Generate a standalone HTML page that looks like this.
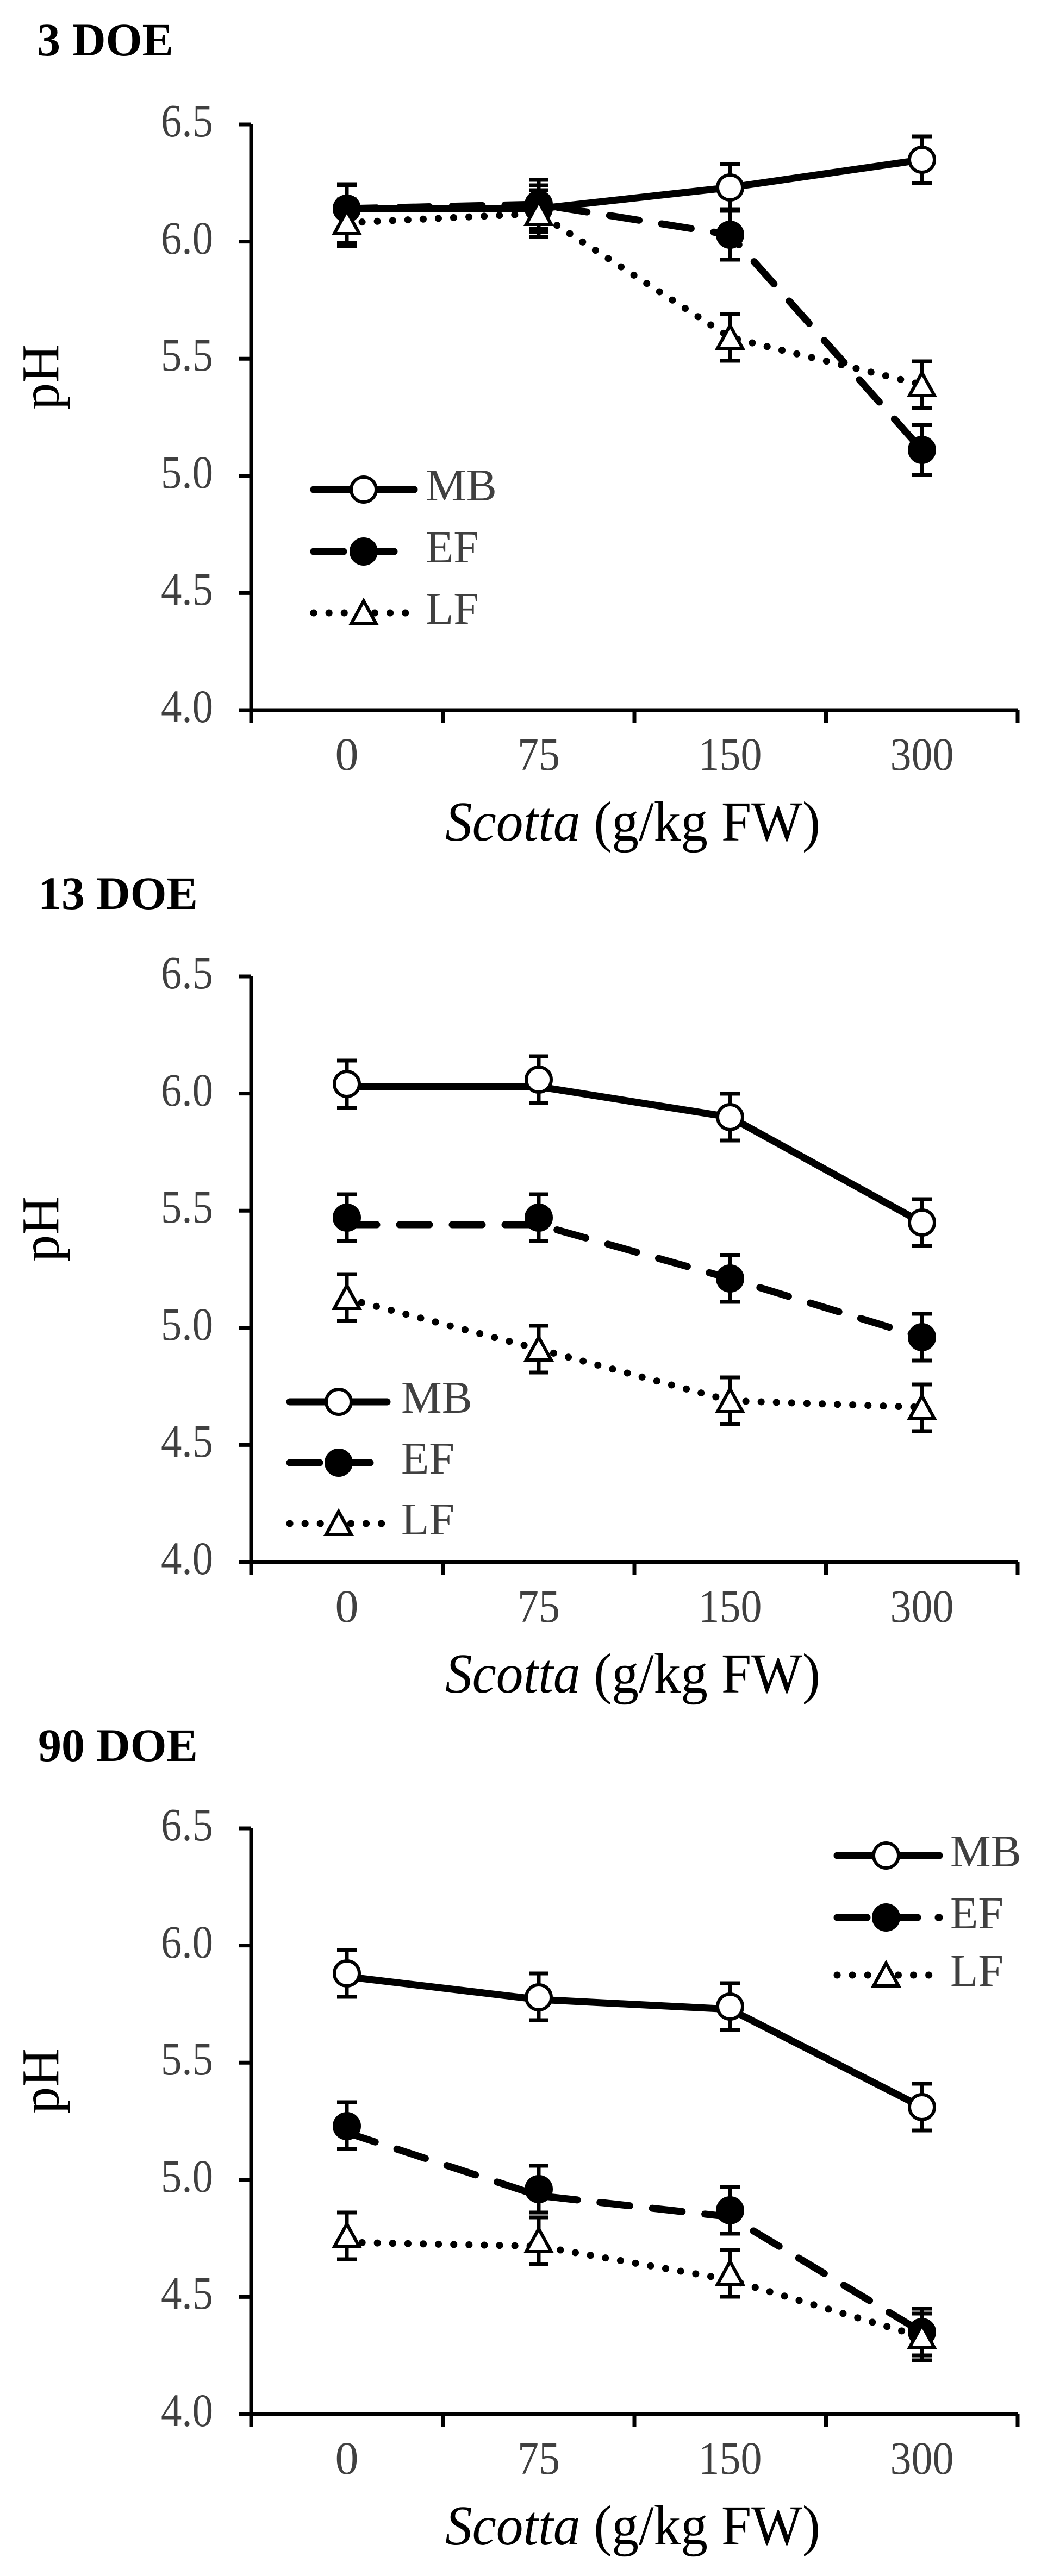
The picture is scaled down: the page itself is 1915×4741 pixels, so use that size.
<!DOCTYPE html>
<html><head><meta charset="utf-8"><style>
html,body{margin:0;padding:0;background:#fff;}
svg{display:block;}
text{font-family:"Liberation Serif",serif;}
.tk{font-size:86px;fill:#404040;}
.tt{font-size:86px;font-weight:bold;fill:#000;}
.lg{font-size:84px;fill:#404040;}
.ax{font-size:104px;fill:#000;}
.mb{fill:none;stroke:#000;stroke-width:13;stroke-linejoin:round;stroke-linecap:round;}
.ef{fill:none;stroke:#000;stroke-width:13;stroke-dasharray:55 42;stroke-linecap:round;}
.lf{fill:none;stroke:#000;stroke-width:13;stroke-dasharray:0.1 28;stroke-linecap:round;}
.eb{stroke:#000;stroke-width:7;fill:none;}
.oc{fill:#fff;stroke:#000;stroke-width:6;}
.fc{fill:#000;stroke:#000;stroke-width:6;}
.tr{fill:#fff;stroke:#000;stroke-width:6;stroke-linejoin:miter;}
.axl{stroke:#000;stroke-width:7;fill:none;}
</style></head><body>
<svg width="1915" height="4741" viewBox="0 0 1915 4741" xmlns="http://www.w3.org/2000/svg">

<!-- ============ CHART 1 ============ -->
<g>
<text class="tt" x="68" y="102">3 DOE</text>
<path class="axl" d="M462 229 V1307 H1872 M440 229 H462 M440 444.6 H462 M440 660.2 H462 M440 875.8 H462 M440 1091.4 H462 M440 1307 H462 M462 1307 V1331 M814.5 1307 V1331 M1167 1307 V1331 M1519.5 1307 V1331 M1872 1307 V1331"/>
<g class="tk" text-anchor="end">
<text x="392" y="251" textLength="96" lengthAdjust="spacingAndGlyphs">6.5</text><text x="392" y="467" textLength="96" lengthAdjust="spacingAndGlyphs">6.0</text><text x="392" y="682" textLength="96" lengthAdjust="spacingAndGlyphs">5.5</text><text x="392" y="898" textLength="96" lengthAdjust="spacingAndGlyphs">5.0</text><text x="392" y="1113" textLength="96" lengthAdjust="spacingAndGlyphs">4.5</text><text x="392" y="1329" textLength="96" lengthAdjust="spacingAndGlyphs">4.0</text>
</g>
<g class="tk" text-anchor="middle">
<text x="638" y="1417">0</text><text x="991" y="1417" textLength="78" lengthAdjust="spacingAndGlyphs">75</text><text x="1343" y="1417" textLength="117" lengthAdjust="spacingAndGlyphs">150</text><text x="1696" y="1417" textLength="117" lengthAdjust="spacingAndGlyphs">300</text>
</g>
<text class="ax" x="1164" y="1547" text-anchor="middle" textLength="690" lengthAdjust="spacingAndGlyphs"><tspan font-style="italic">Scotta</tspan> (g/kg FW)</text>
<text class="ax" style="font-size:98px" transform="translate(107,694) rotate(-90)" text-anchor="middle">pH</text>

<polyline class="mb" points="638,384 991,384 1343,345 1696,294"/>
<path class="eb" d="M638 341V427M620 341H656M620 427H656 M991 341V427M973 341H1009M973 427H1009 M1343 302V388M1325 302H1361M1325 388H1361 M1696 251V337M1678 251H1714M1678 337H1714"/>
<circle class="oc" cx="638" cy="384" r="23"/><circle class="oc" cx="991" cy="384" r="23"/><circle class="oc" cx="1343" cy="345" r="23"/><circle class="oc" cx="1696" cy="294" r="23"/>
<polyline class="ef" points="638,384 991,376 1343,432 1696,828"/>
<path class="eb" d="M638 339V447M620 339H656M620 447H656 M991 331V421M973 331H1009M973 421H1009 M1343 385V478M1325 385H1361M1325 478H1361 M1696 782V874M1678 782H1714M1678 874H1714"/>
<circle class="fc" cx="638" cy="384" r="23"/><circle class="fc" cx="991" cy="376" r="23"/><circle class="fc" cx="1343" cy="432" r="23"/><circle class="fc" cx="1696" cy="828" r="23"/>
<polyline class="lf" points="638,410 991,393 1343,621 1696,708"/>
<path class="eb" d="M638 367V453M620 367H656M620 453H656 M991 350V436M973 350H1009M973 436H1009 M1343 578V664M1325 578H1361M1325 664H1361 M1696 665V751M1678 665H1714M1678 751H1714"/>
<polygon class="tr" points="638,388 615,430 661,430"/><polygon class="tr" points="991,371 968,413 1014,413"/><polygon class="tr" points="1343,599 1320,641 1366,641"/><polygon class="tr" points="1696,686 1673,728 1719,728"/>
<line class="mb" x1="577" y1="901" x2="762" y2="901"/><circle class="oc" cx="669" cy="901" r="23"/>
<line class="ef" x1="577" y1="1015" x2="762" y2="1015" style="stroke-dasharray:55 38"/><circle class="fc" cx="669" cy="1015" r="23"/>
<line class="lf" x1="577" y1="1128" x2="762" y2="1128"/><polygon class="tr" points="669,1106 646,1148 692,1148"/>
<text class="lg" x="783" y="921">MB</text><text class="lg" x="783" y="1035">EF</text><text class="lg" x="783" y="1148">LF</text>
</g>

<!-- ============ CHART 2 ============ -->
<g transform="translate(0,1568)">
<text class="tt" x="70" y="105">13 DOE</text>
<path class="axl" d="M462 229 V1307 H1872 M440 229 H462 M440 444.6 H462 M440 660.2 H462 M440 875.8 H462 M440 1091.4 H462 M440 1307 H462 M462 1307 V1331 M814.5 1307 V1331 M1167 1307 V1331 M1519.5 1307 V1331 M1872 1307 V1331"/>
<g class="tk" text-anchor="end">
<text x="392" y="251" textLength="96" lengthAdjust="spacingAndGlyphs">6.5</text><text x="392" y="467" textLength="96" lengthAdjust="spacingAndGlyphs">6.0</text><text x="392" y="682" textLength="96" lengthAdjust="spacingAndGlyphs">5.5</text><text x="392" y="898" textLength="96" lengthAdjust="spacingAndGlyphs">5.0</text><text x="392" y="1113" textLength="96" lengthAdjust="spacingAndGlyphs">4.5</text><text x="392" y="1329" textLength="96" lengthAdjust="spacingAndGlyphs">4.0</text>
</g>
<g class="tk" text-anchor="middle">
<text x="638" y="1417">0</text><text x="991" y="1417" textLength="78" lengthAdjust="spacingAndGlyphs">75</text><text x="1343" y="1417" textLength="117" lengthAdjust="spacingAndGlyphs">150</text><text x="1696" y="1417" textLength="117" lengthAdjust="spacingAndGlyphs">300</text>
</g>
<text class="ax" x="1164" y="1547" text-anchor="middle" textLength="690" lengthAdjust="spacingAndGlyphs"><tspan font-style="italic">Scotta</tspan> (g/kg FW)</text>
<text class="ax" style="font-size:98px" transform="translate(107,694) rotate(-90)" text-anchor="middle">pH</text>

<polyline class="mb" points="638,432 991,432 1343,488 1696,682"/>
<path class="eb" d="M638 384V471M620 384H656M620 471H656 M991 376V462M973 376H1009M973 462H1009 M1343 445V531M1325 445H1361M1325 531H1361 M1696 639V725M1678 639H1714M1678 725H1714"/>
<circle class="oc" cx="638" cy="427" r="23"/><circle class="oc" cx="991" cy="419" r="23"/><circle class="oc" cx="1343" cy="488" r="23"/><circle class="oc" cx="1696" cy="682" r="23"/>
<polyline class="ef" points="638,686 991,686 1343,785 1696,893"/>
<path class="eb" d="M638 630V716M620 630H656M620 716H656 M991 630V716M973 630H1009M973 716H1009 M1343 742V828M1325 742H1361M1325 828H1361 M1696 850V936M1678 850H1714M1678 936H1714"/>
<circle class="fc" cx="638" cy="673" r="23"/><circle class="fc" cx="991" cy="673" r="23"/><circle class="fc" cx="1343" cy="785" r="23"/><circle class="fc" cx="1696" cy="893" r="23"/>
<polyline class="lf" points="638,822 991,915 1343,1010 1696,1022"/>
<path class="eb" d="M638 777V863M620 777H656M620 863H656 M991 872V958M973 872H1009M973 958H1009 M1343 967V1053M1325 967H1361M1325 1053H1361 M1696 980V1066M1678 980H1714M1678 1066H1714"/>
<polygon class="tr" points="638,798 615,840 661,840"/><polygon class="tr" points="991,893 968,935 1014,935"/><polygon class="tr" points="1343,988 1320,1030 1366,1030"/><polygon class="tr" points="1696,1001 1673,1043 1719,1043"/>
<line class="mb" x1="533" y1="1012" x2="712" y2="1012"/><circle class="oc" cx="623" cy="1012" r="23"/>
<line class="ef" x1="533" y1="1124" x2="712" y2="1124" style="stroke-dasharray:55 38"/><circle class="fc" cx="623" cy="1124" r="23"/>
<line class="lf" x1="533" y1="1236" x2="712" y2="1236"/><polygon class="tr" points="623,1214 600,1256 646,1256"/>
<text class="lg" x="738" y="1032">MB</text><text class="lg" x="738" y="1144">EF</text><text class="lg" x="738" y="1256">LF</text>
</g>

<!-- ============ CHART 3 ============ -->
<g transform="translate(0,3136)">
<text class="tt" x="70" y="105">90 DOE</text>
<path class="axl" d="M462 229 V1307 H1872 M440 229 H462 M440 444.6 H462 M440 660.2 H462 M440 875.8 H462 M440 1091.4 H462 M440 1307 H462 M462 1307 V1331 M814.5 1307 V1331 M1167 1307 V1331 M1519.5 1307 V1331 M1872 1307 V1331"/>
<g class="tk" text-anchor="end">
<text x="392" y="251" textLength="96" lengthAdjust="spacingAndGlyphs">6.5</text><text x="392" y="467" textLength="96" lengthAdjust="spacingAndGlyphs">6.0</text><text x="392" y="682" textLength="96" lengthAdjust="spacingAndGlyphs">5.5</text><text x="392" y="898" textLength="96" lengthAdjust="spacingAndGlyphs">5.0</text><text x="392" y="1113" textLength="96" lengthAdjust="spacingAndGlyphs">4.5</text><text x="392" y="1329" textLength="96" lengthAdjust="spacingAndGlyphs">4.0</text>
</g>
<g class="tk" text-anchor="middle">
<text x="638" y="1417">0</text><text x="991" y="1417" textLength="78" lengthAdjust="spacingAndGlyphs">75</text><text x="1343" y="1417" textLength="117" lengthAdjust="spacingAndGlyphs">150</text><text x="1696" y="1417" textLength="117" lengthAdjust="spacingAndGlyphs">300</text>
</g>
<text class="ax" x="1164" y="1547" text-anchor="middle" textLength="690" lengthAdjust="spacingAndGlyphs"><tspan font-style="italic">Scotta</tspan> (g/kg FW)</text>
<text class="ax" style="font-size:98px" transform="translate(107,694) rotate(-90)" text-anchor="middle">pH</text>

<polyline class="mb" points="638,502 991,544 1343,562 1696,742"/>
<path class="eb" d="M638 453V539M620 453H656M620 539H656 M991 496V582M973 496H1009M973 582H1009 M1343 514V600M1325 514H1361M1325 600H1361 M1696 699V785M1678 699H1714M1678 785H1714"/>
<circle class="oc" cx="638" cy="496" r="23"/><circle class="oc" cx="991" cy="540" r="23"/><circle class="oc" cx="1343" cy="557" r="23"/><circle class="oc" cx="1696" cy="742" r="23"/>
<polyline class="ef" points="638,789 991,905 1343,944 1696,1156"/>
<path class="eb" d="M638 733V819M620 733H656M620 819H656 M991 850V936M973 850H1009M973 936H1009 M1343 889V975M1325 889H1361M1325 975H1361 M1696 1113V1199M1678 1113H1714M1678 1199H1714"/>
<circle class="fc" cx="638" cy="777" r="23"/><circle class="fc" cx="991" cy="893" r="23"/><circle class="fc" cx="1343" cy="932" r="23"/><circle class="fc" cx="1696" cy="1156" r="23"/>
<polyline class="lf" points="638,991 991,998 1343,1060 1696,1165"/>
<path class="eb" d="M638 936V1022M620 936H656M620 1022H656 M991 945V1031M973 945H1009M973 1031H1009 M1343 1005V1091M1325 1005H1361M1325 1091H1361 M1696 1122V1208M1678 1122H1714M1678 1208H1714"/>
<polygon class="tr" points="638,957 615,999 661,999"/><polygon class="tr" points="991,966 968,1008 1014,1008"/><polygon class="tr" points="1343,1026 1320,1068 1366,1068"/><polygon class="tr" points="1696,1143 1673,1185 1719,1185"/>
<line class="mb" x1="1540" y1="279" x2="1728" y2="279"/><circle class="oc" cx="1630" cy="279" r="23"/>
<line class="ef" x1="1540" y1="393" x2="1728" y2="393" style="stroke-dasharray:55 38"/><circle class="fc" cx="1630" cy="393" r="23"/>
<line class="lf" x1="1540" y1="499" x2="1728" y2="499"/><polygon class="tr" points="1630,477 1607,519 1653,519"/>
<text class="lg" x="1748" y="299">MB</text><text class="lg" x="1748" y="413">EF</text><text class="lg" x="1748" y="519">LF</text>
</g>
</svg>
</body></html>
